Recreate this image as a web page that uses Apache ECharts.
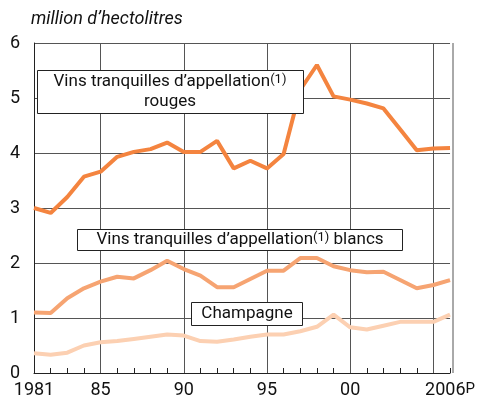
<!doctype html>
<html lang="fr">
<head>
<meta charset="UTF-8">
<title>Vins</title>
<script src="https://cdn.jsdelivr.net/npm/echarts@6/dist/echarts.min.js"></script>
<style>
  html, body { margin: 0; padding: 0; background: #fff; }
</style>
</head>
<body>
<div id="main" style="width:478px;height:402px;"></div>
<script type="text/javascript">
    // années 1981 - 2006
    var years = [];
    for (var y = 1981; y <= 2006; y++) years.push(y);

    var rouges = [3.00, 2.91, 3.20, 3.57, 3.66, 3.93, 4.02, 4.07, 4.19, 4.02, 4.02, 4.22, 3.72,
                  3.86, 3.72, 3.98, 5.15, 5.60, 5.03, 4.97, 4.90, 4.81, 4.43, 4.05, 4.08, 4.09];
    var blancs = [1.10, 1.09, 1.36, 1.54, 1.66, 1.75, 1.72, 1.87, 2.04, 1.89, 1.77, 1.56, 1.56,
                  1.71, 1.86, 1.86, 2.09, 2.09, 1.94, 1.87, 1.83, 1.84, 1.69, 1.54, 1.60, 1.69];
    var champagne = [0.36, 0.33, 0.37, 0.50, 0.56, 0.58, 0.62, 0.66, 0.70, 0.68, 0.58, 0.57, 0.61,
                     0.66, 0.70, 0.70, 0.76, 0.84, 1.06, 0.83, 0.79, 0.86, 0.93, 0.93, 0.93, 1.06];

    var yearLabels = {1981: '1981', 1985: '85', 1990: '90', 1995: '95', 2000: '00', 2006: '2006{p|P}'};
    var gridYears = [1985, 1990, 1995, 2000, 2005];

    function pairs(vals) {
        var out = [];
        for (var i = 0; i < years.length; i++) out.push([years[i], vals[i]]);
        return out;
    }

    var font = 'Roboto, "Liberation Sans", sans-serif';
    var myChart = echarts.init(document.getElementById('main'));

    var option = {
        animation: false,
        grid: {left: 34, right: 25, top: 43, bottom: 29},
        xAxis: {
            type: 'value',
            min: 1981, max: 2006, interval: 1,
            axisLine: {show: true, lineStyle: {color: '#222', width: 1}},
            axisTick: {show: true, inside: true, length: 5, lineStyle: {color: '#222'}},
            splitLine: {show: false},
            axisLabel: {
                color: '#111', fontFamily: font, fontSize: 18, margin: 8,
                showMinLabel: true, showMaxLabel: true,
                formatter: function (v) { return yearLabels[v] || ''; },
                rich: {p: {fontSize: 15, fontFamily: font, color: '#111', padding: [0, 0, 2, 0]}}
            }
        },
        yAxis: {
            type: 'value',
            min: 0, max: 6, interval: 1,
            axisLine: {show: true, lineStyle: {color: '#222'}},
            axisTick: {show: false},
            splitLine: {show: true, lineStyle: {color: '#555', width: 1}},
            axisLabel: {color: '#111', fontFamily: font, fontSize: 18, margin: 14}
        },
        graphic: [
            {type: 'text', left: 31, top: 10,
             style: {text: 'million d\u2019hectolitres', font: 'italic 18px ' + font, fill: '#111'}},
            // cadre droit
            {type: 'line', shape: {x1: 453, y1: 43, x2: 453, y2: 373},
             style: {stroke: '#555', lineWidth: 1}, z: 5},
            {type: 'rect', shape: {x: 37.5, y: 70.5, width: 266, height: 43},
             style: {fill: '#fff', stroke: '#222', lineWidth: 1}, z: 20},
            {type: 'text', x: 170, y: 92, z: 21,
             style: {
                 text: 'Vins tranquilles d\u2019appellation{s|(1)}\nrouges',
                 align: 'center', verticalAlign: 'middle', lineHeight: 20,
                 font: '17px ' + font, fill: '#111',
                 rich: {s: {fontSize: 13, fontFamily: font, padding: [0, 0, 5, 0], fill: '#111'}}
             }},
            {type: 'rect', shape: {x: 77.5, y: 229.5, width: 325, height: 21},
             style: {fill: '#fff', stroke: '#222', lineWidth: 1}, z: 20},
            {type: 'text', x: 240, y: 240, z: 21,
             style: {
                 text: 'Vins tranquilles d\u2019appellation{s|(1)} blancs',
                 align: 'center', verticalAlign: 'middle',
                 font: '17px ' + font, fill: '#111',
                 rich: {s: {fontSize: 13, fontFamily: font, padding: [0, 0, 5, 0], fill: '#111'}}
             }},
            {type: 'rect', shape: {x: 191.5, y: 302.5, width: 111, height: 23},
             style: {fill: '#fff', stroke: '#222', lineWidth: 1}, z: 20},
            {type: 'text', x: 247, y: 314, z: 21,
             style: {text: 'Champagne', align: 'center', verticalAlign: 'middle',
                     font: '17px ' + font, fill: '#111'}}
        ],
        series: [
            {
                type: 'line', data: pairs(rouges), symbol: 'none', z: 10,
                lineStyle: {color: '#F4843F', width: 4},
                markLine: {
                    silent: true, symbol: 'none', label: {show: false},
                    lineStyle: {color: '#555', width: 1, type: 'solid'},
                    data: gridYears.map(function (g) { return {xAxis: g}; }),
                    z: 1
                }
            },
            {
                type: 'line', data: pairs(blancs), symbol: 'none', z: 10,
                lineStyle: {color: '#F6A472', width: 4}
            },
            {
                type: 'line', data: pairs(champagne), symbol: 'none', z: 10,
                lineStyle: {color: '#FCD0B2', width: 4}
            }
        ]
    };

    myChart.setOption(option);
</script>
</body>
</html>
